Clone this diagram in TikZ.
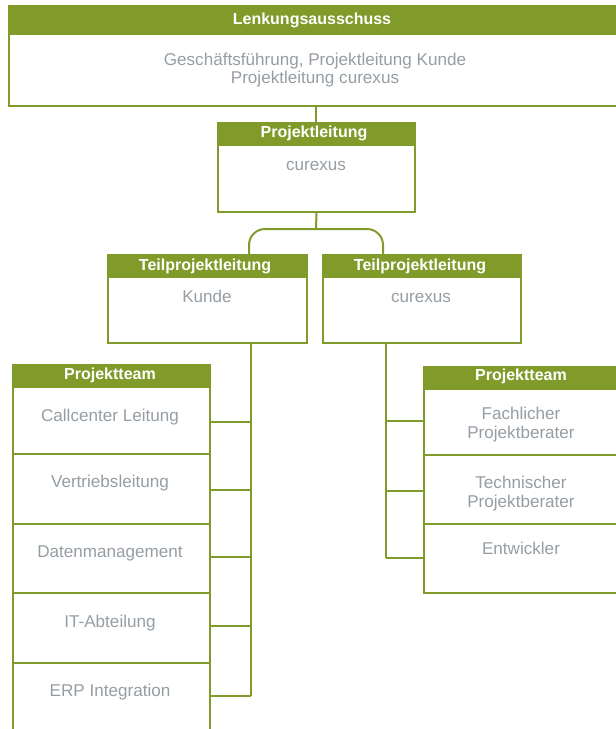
\documentclass[tikz,border=0pt]{standalone}
\usepackage{fontspec}
\setmainfont{Liberation Sans}
\definecolor{grn}{RGB}{128,155,42}
\definecolor{txt}{RGB}{150,158,164}
\begin{document}
\begin{tikzpicture}[x=1pt,y=-1pt,
  hdr/.style={fill=grn,draw=grn,line width=1.5pt,anchor=north west,inner sep=0pt},
  htxt/.style={text=white,font=\fontsize{16}{19}\selectfont\bfseries,anchor=base,inner sep=0pt},
  cell/.style={draw=grn,line width=2pt,anchor=north west,inner sep=0pt,fill=white},
  lbl/.style={text=txt,font=\fontsize{17.1}{19}\selectfont,anchor=base,inner sep=0pt},
  conn/.style={draw=grn,line width=2pt}]
\useasboundingbox (0,0) rectangle (616,729);
% Lenkungsausschuss
\node[cell,minimum width=608,minimum height=72] (lab) at (8,33) {};
\node[hdr,minimum width=608,minimum height=28] (lah) at (8,5) {};
\node[htxt] (laht) at (312,24) {Lenkungsausschuss};
\node[lbl] (labt1) at (315,65) {Geschäftsführung, Projektleitung Kunde};
\node[lbl] (labt2) at (315,83.5) {Projektleitung curexus};
% Projektleitung
\node[cell,minimum width=197,minimum height=67] (plb) at (217,144) {};
\node[hdr,minimum width=197,minimum height=22] (plh) at (217,122) {};
\node[htxt] (plht) at (314,137.7) {Projektleitung};
\node[lbl] (plbt) at (316,170.5) {curexus};
% Teilprojektleitung
\node[cell,minimum width=199,minimum height=66] (tlb) at (107,276) {};
\node[hdr,minimum width=199,minimum height=22] (tlh) at (107,254) {};
\node[htxt] (tlht) at (205,270.7) {Teilprojektleitung};
\node[lbl] (tlbt) at (207,302.3) {Kunde};
\node[cell,minimum width=198,minimum height=66] (trb) at (322,276) {};
\node[hdr,minimum width=198,minimum height=22] (trh) at (322,254) {};
\node[htxt] (trht) at (420,270.7) {Teilprojektleitung};
\node[lbl] (trbt) at (421,302.3) {curexus};
% Left team
\node[hdr,minimum width=197,minimum height=22] (ah) at (12,364) {};
\node[htxt] (aht) at (110,379.5) {Projektteam};
\node[cell,minimum width=197,minimum height=67] (a1) at (12,386) {};
\node[cell,minimum width=197,minimum height=70] (a2) at (12,453) {};
\node[cell,minimum width=197,minimum height=69] (a3) at (12,523) {};
\node[cell,minimum width=197,minimum height=70] (a4) at (12,592) {};
\node[cell,minimum width=197,minimum height=70] (a5) at (12,662) {};
\node[lbl] (a1t) at (110,421.5) {Callcenter Leitung};
\node[lbl] (a2t) at (110,487.7) {Vertriebsleitung};
\node[lbl] (a3t) at (110,557.3) {Datenmanagement};
\node[lbl] (a4t) at (110,627.5) {IT-Abteilung};
\node[lbl] (a5t) at (110,696) {ERP Integration};
% Right team
\node[hdr,minimum width=194,minimum height=22] (bh) at (423,366) {};
\node[htxt] (bht) at (521,380.7) {Projektteam};
\node[cell,minimum width=194,minimum height=66] (b1) at (423,388) {};
\node[cell,minimum width=194,minimum height=69] (b2) at (423,454) {};
\node[cell,minimum width=194,minimum height=69] (b3) at (423,523) {};
\node[lbl] (b1t1) at (521,419.3) {Fachlicher};
\node[lbl] (b1t2) at (521,438.3) {Projektberater};
\node[lbl] (b2t1) at (521,488.3) {Technischer};
\node[lbl] (b2t2) at (521,507.3) {Projektberater};
\node[lbl] (b3t) at (521,554) {Entwickler};
% connectors
\coordinate (j1) at (316,229);
\draw[conn] (lab.south -| plh.north) -- (plh.north);
\draw[conn] (plb.south) -- (j1);
\draw[conn,rounded corners=16pt] (tlh.north -| 249,0) |- (j1) -| (trh.north -| 383,0);
\coordinate (lv) at (251,696);
\draw[conn] (tlb.south -| lv) -- (lv);
\draw[conn] (a1.east |- 0,422) -- (251,422);
\draw[conn] (a2.east |- 0,490) -- (251,490);
\draw[conn] (a3.east |- 0,557) -- (251,557);
\draw[conn] (a4.east |- 0,626) -- (251,626);
\draw[conn] (a5.east |- lv) -- (lv);
\coordinate (rv) at (386,558);
\draw[conn] (trb.south -| rv) -- (rv);
\draw[conn] (b1.west |- 0,421) -- (386,421);
\draw[conn] (b2.west |- 0,491) -- (386,491);
\draw[conn] (b3.west |- rv) -- (rv);
\end{tikzpicture}
\end{document}
